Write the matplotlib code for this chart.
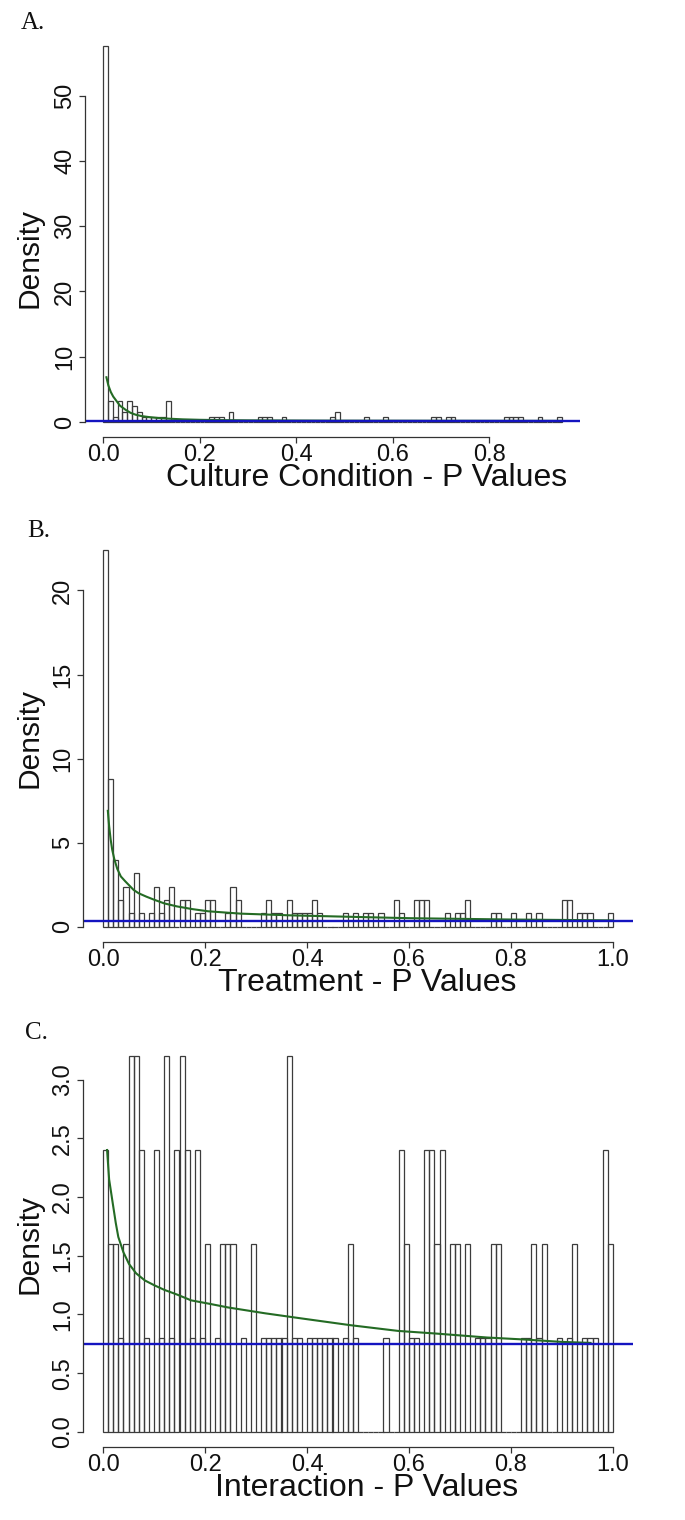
import numpy as np
import matplotlib
matplotlib.use('Agg')
import matplotlib.pyplot as plt

W, H = 685, 1520
BIN = 0.01

# ---- panel A: culture condition (bins 0.00 .. 0.95) ----
a_density = [
    57.6, 3.2, 0.8, 3.2, 1.6, 3.2, 2.4, 1.6, 0.8, 0.8,
    0.8, 0.8, 0.8, 3.2, 0, 0, 0, 0, 0, 0,
    0, 0, 0.8, 0.8, 0.8, 0, 1.6, 0, 0, 0,
    0, 0, 0.8, 0.8, 0.8, 0, 0, 0.8, 0, 0,
    0, 0, 0, 0, 0, 0, 0, 0.8, 1.6, 0,
    0, 0, 0, 0, 0.8, 0, 0, 0, 0.8, 0,
    0, 0, 0, 0, 0, 0, 0, 0, 0.8, 0.8,
    0, 0.8, 0.8, 0, 0, 0, 0, 0, 0, 0,
    0, 0, 0, 0.8, 0.8, 0.8, 0.8, 0, 0, 0,
    0.8, 0, 0, 0, 0.8,
]
a_curve_p = [0.007, 0.011, 0.016, 0.021, 0.026, 0.035, 0.047, 0.057, 0.068, 0.08,
             0.095, 0.115, 0.137, 0.165, 0.2, 0.25, 0.3, 0.4, 0.5, 0.65, 0.8, 0.95]
a_curve_d = [6.85, 5.6, 4.6, 3.9, 3.4, 2.5, 1.85, 1.4, 1.1, 0.9,
             0.75, 0.6, 0.5, 0.4, 0.33, 0.28, 0.25, 0.22, 0.2, 0.19, 0.18, 0.17]
a_blue = 0.17
a_yticks = [0, 10, 20, 30, 40, 50]
a_xticks = [0.0, 0.2, 0.4, 0.6, 0.8]

# ---- panel B: treatment ----
b_density = [
    22.4, 8.8, 4.0, 1.6, 2.4, 0.8, 3.2, 0.8, 0, 0.8,
    2.4, 0.8, 1.6, 2.4, 0, 1.6, 1.6, 0, 0.8, 0.8,
    1.6, 1.6, 0, 0, 0.8, 2.4, 1.6, 0, 0, 0,
    0, 0.8, 1.6, 0.8, 0.8, 0, 1.6, 0.8, 0.8, 0.8,
    0.8, 1.6, 0.8, 0, 0, 0, 0, 0.8, 0, 0.8,
    0, 0.8, 0.8, 0, 0.8, 0, 0, 1.6, 0.8, 0,
    0, 1.6, 1.6, 1.6, 0, 0, 0, 0.8, 0, 0.8,
    0.8, 1.6, 0, 0, 0, 0, 0.8, 0.8, 0, 0,
    0.8, 0, 0, 0.8, 0, 0.8, 0, 0, 0, 0,
    1.6, 1.6, 0, 0.8, 0.8, 0.8, 0, 0, 0, 0.8,
]
b_curve_p = [0.0095, 0.012, 0.015, 0.018, 0.022, 0.028, 0.035, 0.044, 0.06, 0.07,
             0.085, 0.1, 0.12, 0.145, 0.175, 0.206, 0.27, 0.365, 0.46, 0.6, 0.8, 1.0]
b_curve_d = [6.9, 6.0, 5.2, 4.6, 4.05, 3.45, 3.0, 2.7, 2.2, 2.0,
             1.8, 1.62, 1.4, 1.22, 1.06, 0.93, 0.79, 0.69, 0.62, 0.52, 0.44, 0.39]
b_blue = 0.38
b_yticks = [0, 5, 10, 15, 20]
b_xticks = [0.0, 0.2, 0.4, 0.6, 0.8, 1.0]

# ---- panel C: interaction ----
c_density = [
    2.4, 1.6, 1.6, 0.8, 1.6, 3.2, 3.2, 2.4, 0.8, 0,
    2.4, 0.8, 3.2, 0.8, 2.4, 3.2, 2.4, 0.8, 2.4, 0.8,
    1.6, 0, 0.8, 1.6, 1.6, 1.6, 0, 0.8, 0, 1.6,
    0, 0.8, 0.8, 0.8, 0.8, 0.8, 3.2, 0.8, 0.8, 0,
    0.8, 0.8, 0.8, 0.8, 0.8, 0.8, 0, 0.8, 1.6, 0.8,
    0, 0, 0, 0, 0, 0.8, 0, 0, 2.4, 1.6,
    0.8, 0.8, 0, 2.4, 2.4, 1.6, 2.4, 0, 1.6, 1.6,
    0, 1.6, 0, 0.8, 0.8, 0.8, 1.6, 1.6, 0, 0,
    0, 0, 0.8, 0.8, 1.6, 0.8, 1.6, 0, 0, 0.8,
    0, 0.8, 1.6, 0, 0.8, 0.8, 0.8, 0, 2.4, 1.6,
]
c_curve_p = [0.008, 0.012, 0.019, 0.025, 0.03, 0.04, 0.051, 0.065, 0.082, 0.1,
             0.12, 0.145, 0.173, 0.21, 0.245, 0.318, 0.39, 0.485, 0.579, 0.652,
             0.753, 0.826, 0.898, 0.956]
c_curve_d = [2.4, 2.15, 1.95, 1.78, 1.66, 1.53, 1.43, 1.35, 1.29, 1.25,
             1.21, 1.17, 1.12, 1.09, 1.06, 1.01, 0.966, 0.909, 0.86, 0.838,
             0.804, 0.787, 0.767, 0.758]
c_blue = 0.753
c_yticks = [0.0, 0.5, 1.0, 1.5, 2.0, 2.5, 3.0]
c_xticks = [0.0, 0.2, 0.4, 0.6, 0.8, 1.0]

SANS = 'Liberation Sans'
SERIF = 'Liberation Serif'
TICK_FS = 17
LAB_FS = 23

fig = plt.figure(figsize=(W / 100, H / 100), dpi=100)


def px_axes(x0, y0, x1, y1):
    return fig.add_axes([x0 / W, 1 - y1 / H, (x1 - x0) / W, (y1 - y0) / H])


def draw_panel(box, letter, letter_xy, ylab_y, dens, curve_p, curve_d, blue,
               yticks, ylabels, xticks, xlabel):
    ax = px_axes(*box)
    dens = np.asarray(dens, dtype=float)
    edges = np.round(np.arange(len(dens) + 1) * BIN, 2)
    rng = edges[-1] - edges[0]
    ax.set_xlim(edges[0] - 0.04 * rng, edges[-1] + 0.04 * rng)
    top = dens.max()
    ax.set_ylim(-0.04 * top, 1.04 * top)

    ax.bar(edges[:-1], dens, width=BIN, align='edge', fill=False,
           edgecolor='#3c3c3c', linewidth=0.9)
    ax.plot(curve_p, curve_d, color='#246b24', lw=1.5)
    ax.axhline(blue, color='#1414c0', lw=1.7)

    for s in ['top', 'right']:
        ax.spines[s].set_visible(False)
    ax.spines['left'].set_bounds(yticks[0], yticks[-1])
    ax.spines['bottom'].set_bounds(xticks[0], xticks[-1])
    for s in ['left', 'bottom']:
        ax.spines[s].set_linewidth(0.9)
        ax.spines[s].set_color('#333333')

    ax.set_yticks(yticks)
    ax.set_yticklabels(ylabels, fontsize=TICK_FS, family=SANS, rotation=90, va='center')
    ax.set_xticks(xticks)
    ax.set_xticklabels(['%.1f' % v for v in xticks], fontsize=TICK_FS, family=SANS)
    ax.tick_params(direction='out', length=4, width=0.9, color='#333333', labelcolor='#111111')
    ax.tick_params(axis='x', pad=1)
    ax.tick_params(axis='y', pad=2)

    x0, y0, x1, y1 = box
    fig.text(367 / W, 1 - (y1 + 41) / H, xlabel, fontsize=LAB_FS,
             family=SANS, ha='center', va='center', color='#111111')
    fig.text(30 / W, 1 - ylab_y / H, 'Density', fontsize=21.5,
             family=SANS, rotation=90, ha='center', va='center', color='#111111')
    fig.text(letter_xy[0] / W, 1 - letter_xy[1] / H, letter, fontsize=18,
             family=SERIF, ha='left', va='baseline', color='#111111')
    return ax


draw_panel((84.7, 31, 580, 437), 'A.', (21, 29), 258, a_density, a_curve_p, a_curve_d, a_blue,
           a_yticks, [str(v) for v in a_yticks], a_xticks, 'Culture Condition - P Values')
draw_panel((82.6, 535, 633.4, 942), 'B.', (27, 537), 738, b_density, b_curve_p, b_curve_d, b_blue,
           b_yticks, [str(v) for v in b_yticks], b_xticks, 'Treatment - P Values')
draw_panel((82.6, 1041, 633.4, 1447), 'C.', (25, 1039), 1244, c_density, c_curve_p, c_curve_d, c_blue,
           c_yticks, ['%.1f' % v for v in c_yticks], c_xticks, 'Interaction - P Values')

fig.savefig('out.png', dpi=100)
